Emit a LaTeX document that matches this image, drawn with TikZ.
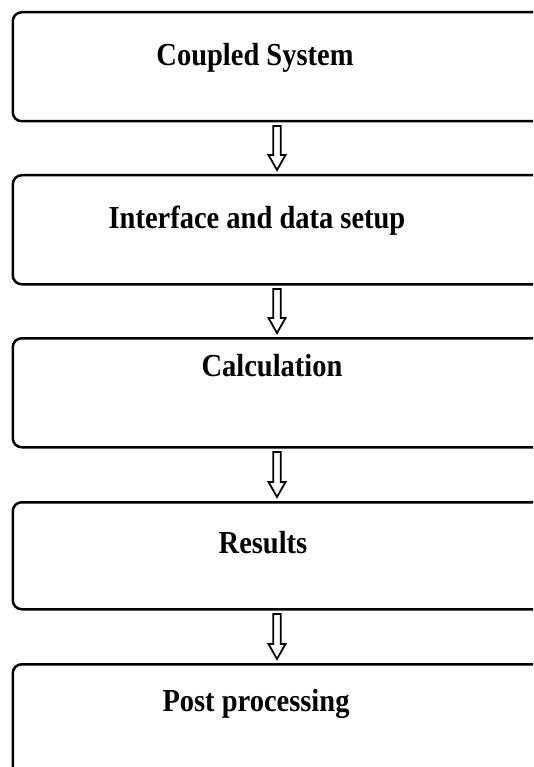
\documentclass[tikz,border=0pt]{standalone}
\usepackage{fontspec}
\setmainfont{Liberation Serif}
\usetikzlibrary{calc}

\tikzset{
  stage/.style={draw=black, line width=2.5pt, rounded corners=9pt,
    minimum width=560pt, minimum height=#1, anchor=north west, inner sep=0pt},
  stage/.default=109pt,
  caption/.style={anchor=base, inner sep=0pt,
    font=\fontsize{32}{36}\selectfont\bfseries},
  hollowarrow/.style={draw=black, line width=1.8pt, fill=white, line join=miter}
}

% hollow down arrow from the bottom of #1 to the top of #2
\newcommand\flowarrow[2]{%
  \draw[hollowarrow]
    let \p1=($(#1.south west)+(265.5,3.5)$),
        \p2=($(#2.north west)+(265.5,-4)$) in
    (\x1-3.8pt,\y1) -- (\x1+3.8pt,\y1) -- (\x1+3.8pt,\y2+15pt)
    -- (\x1+8.5pt,\y2+15pt) -- (\x1,\y2) -- (\x1-8.5pt,\y2+15pt)
    -- (\x1-3.8pt,\y2+15pt) -- cycle;}

\begin{document}
\begin{tikzpicture}[x=1pt,y=-1pt]
  \clip (0,0) rectangle (533,767);
  \fill[white] (0,0) rectangle (533,767);

  \node[stage] (b1) at (11.5,11) {};
  \node[stage] (b2) at (11.5,174) {};
  \node[stage] (b3) at (11.5,337) {};
  \node[stage=107pt] (b4) at (11.5,501) {};
  \node[stage=120pt] (b5) at (11.5,663) {};

  \node[caption] (t1) at (255,66)  {\scalebox{0.89}[1]{Coupled System}};
  \node[caption] (t2) at (257,228) {\scalebox{0.89}[1]{Interface and data setup}};
  \node[caption] (t3) at (272,376) {\scalebox{0.89}[1]{Calculation}};
  \node[caption] (t4) at (263,553) {\scalebox{0.89}[1]{Results}};
  \node[caption] (t5) at (256,711) {\scalebox{0.89}[1]{Post processing}};

  \flowarrow{b1}{b2}
  \flowarrow{b2}{b3}
  \flowarrow{b3}{b4}
  \flowarrow{b4}{b5}
\end{tikzpicture}
\end{document}
